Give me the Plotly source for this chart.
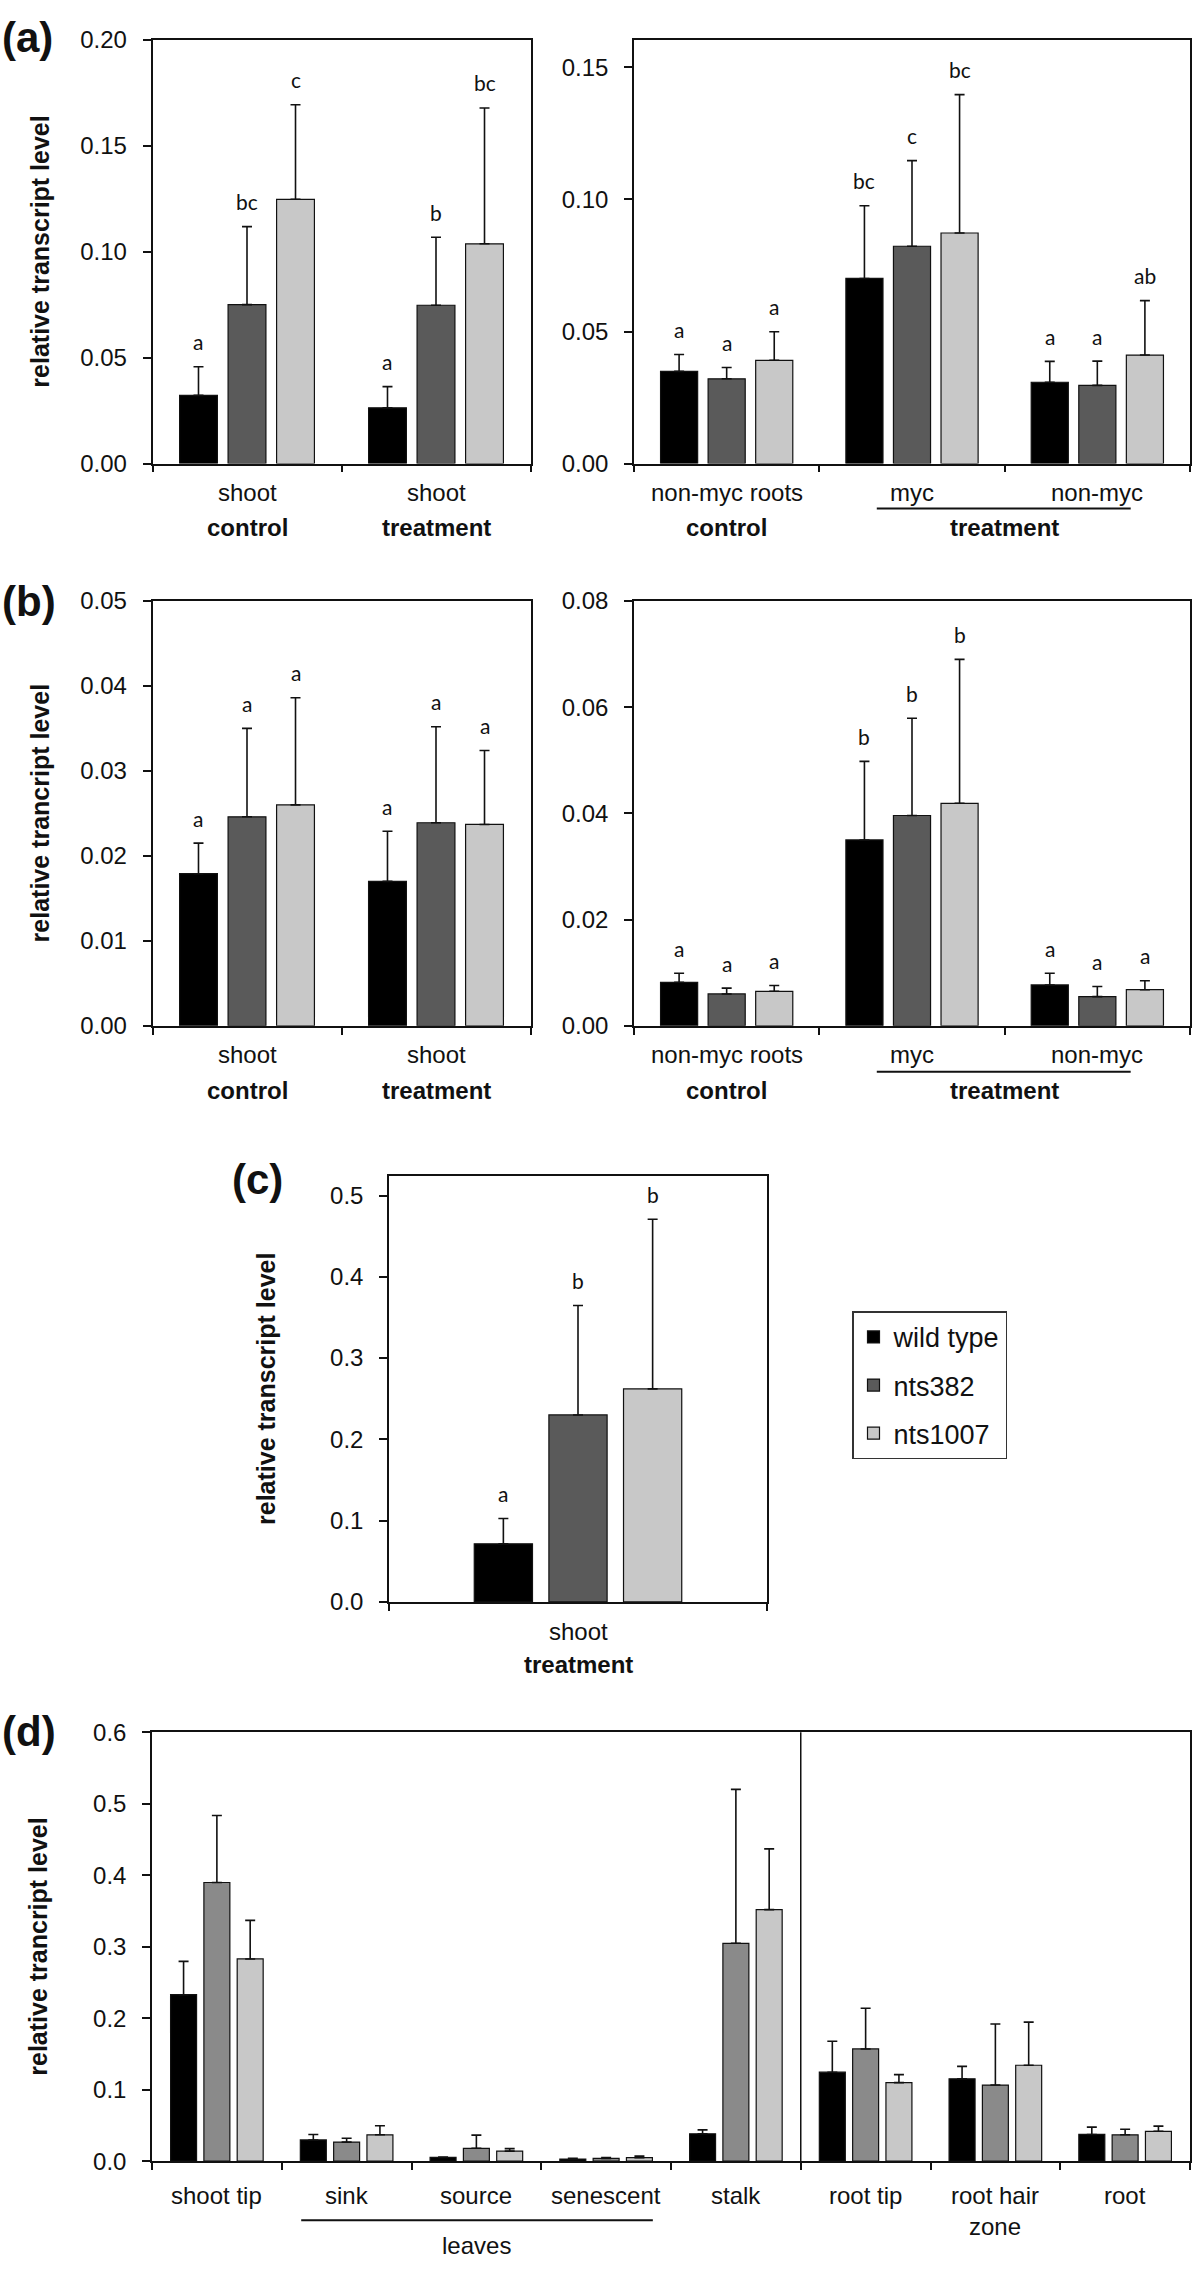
import plotly.graph_objects as go

W, H = 1200, 2272

# ---------------- data ----------------
series = ["wild type", "nts382", "nts1007"]
colors_abc = ["#000000", "#5a5a5a", "#c8c8c8"]
colors_d = ["#000000", "#8a8a8a", "#c8c8c8"]

# (a) shoot
a1_cats = ["shoot", "shoot"]
a1_groups = ["control", "treatment"]
a1_wt = [0.0322, 0.0263]
a1_wt_err = [0.0135, 0.0100]
a1_382 = [0.0750, 0.0747]
a1_382_err = [0.0368, 0.0321]
a1_1007 = [0.1247, 0.1037]
a1_1007_err = [0.0446, 0.0641]
a1_letters_wt = ["a", "a"]
a1_letters_382 = ["bc", "b"]
a1_letters_1007 = ["c", "bc"]

# (a) roots
a2_cats = ["non-myc roots", "myc", "non-myc"]
a2_wt = [0.0349, 0.0701, 0.0308]
a2_wt_err = [0.0064, 0.0275, 0.0079]
a2_382 = [0.0321, 0.0823, 0.0296]
a2_382_err = [0.0043, 0.0324, 0.0092]
a2_1007 = [0.0391, 0.0873, 0.0411]
a2_1007_err = [0.0108, 0.0524, 0.0206]
a2_letters_wt = ["a", "bc", "a"]
a2_letters_382 = ["a", "c", "a"]
a2_letters_1007 = ["a", "bc", "ab"]

# (b) shoot
b1_cats = ["shoot", "shoot"]
b1_wt = [0.0179, 0.0170]
b1_wt_err = [0.0036, 0.0059]
b1_382 = [0.0246, 0.0239]
b1_382_err = [0.0104, 0.0113]
b1_1007 = [0.0260, 0.0237]
b1_1007_err = [0.0126, 0.0087]
b1_letters_wt = ["a", "a"]
b1_letters_382 = ["a", "a"]
b1_letters_1007 = ["a", "a"]

# (b) roots
b2_cats = ["non-myc roots", "myc", "non-myc"]
b2_wt = [0.0082, 0.0350, 0.0077]
b2_wt_err = [0.0017, 0.0148, 0.0022]
b2_382 = [0.0060, 0.0396, 0.0055]
b2_382_err = [0.0011, 0.0183, 0.0019]
b2_1007 = [0.0065, 0.0419, 0.0068]
b2_1007_err = [0.0011, 0.0271, 0.0017]
b2_letters_wt = ["a", "b", "a"]
b2_letters_382 = ["a", "b", "a"]
b2_letters_1007 = ["a", "b", "a"]

# (c)
c_cats = ["shoot"]
c_wt = [0.0714]
c_wt_err = [0.0312]
c_382 = [0.2300]
c_382_err = [0.1347]
c_1007 = [0.2621]
c_1007_err = [0.2087]
c_letters_wt = ["a"]
c_letters_382 = ["b"]
c_letters_1007 = ["b"]

# (d)
d_cats = ["shoot tip", "sink", "source", "senescent", "stalk",
          "root tip", "root hair<br>zone", "root"]
d_wt = [0.2329, 0.0297, 0.0053, 0.0029, 0.0384, 0.1245, 0.1152, 0.0374]
d_wt_err = [0.0466, 0.0077, 0.0005, 0.0010, 0.0054, 0.0432, 0.0175, 0.0102]
d_382 = [0.3899, 0.0267, 0.0180, 0.0039, 0.3048, 0.1570, 0.1065, 0.0369]
d_382_err = [0.0938, 0.0054, 0.0185, 0.0010, 0.2154, 0.0569, 0.0855, 0.0078]
d_1007 = [0.2829, 0.0369, 0.0141, 0.0049, 0.3520, 0.1099, 0.1342, 0.0418]
d_1007_err = [0.0540, 0.0127, 0.0034, 0.0024, 0.0850, 0.0112, 0.0603, 0.0073]

# ---------------- layout helpers ----------------
FONT = "Liberation Sans, Arial, sans-serif"
LETTER_FONT = "Lato, Open Sans, sans-serif"
BARGAP = 0.23
SLOT = (1 - BARGAP) / 3

# panel boxes in pixels: left, right, top, bottom
boxes = {
    1: (152.5, 530.5, 26, 455),
    2: (634, 1190, 26, 455),
    3: (152.5, 530.5, 594, 1024),
    4: (634, 1190, 594, 1024),
    5: (389, 767, 1176, 1607),
    6: (152, 1190, 1739, 2173),
}


def px(x):
    return x / W


def py(y):
    return 1 - y / H


fig = go.Figure()
annotations = []
shapes = []


def xn(i):
    return "x" if i == 1 else f"x{i}"


def yn(i):
    return "y" if i == 1 else f"y{i}"


def add_panel(i, cats, vals, errs, letters, colors, yrange, dtick, fmt,
              xrange=None, showlegend=False):
    n = len(cats)
    xs = list(range(n))
    for s in range(3):
        fig.add_trace(go.Bar(
            x=xs, y=vals[s], name=series[s], legendgroup=series[s],
            showlegend=showlegend,
            marker=dict(color=colors[s], line=dict(color="#111", width=1.2)),
            error_y=dict(type="data", symmetric=False, array=errs[s],
                         arrayminus=[0] * n, color="#111", thickness=1.6,
                         width=5),
            xaxis=xn(i), yaxis=yn(i),
        ))
        if letters is not None:
            for k in range(n):
                annotations.append(dict(
                    xref=xn(i), yref=yn(i),
                    x=xs[k] + (s - 1) * SLOT, y=vals[s][k] + errs[s][k],
                    text=letters[s][k], showarrow=False, yanchor="middle",
                    yshift=25, font=dict(family=LETTER_FONT, size=21,
                                         color="#111")))
    l, r, t, b = boxes[i]
    if xrange is None:
        xrange = [-0.5, n - 0.5]
    bounds = [xrange[0] + k for k in range(n + 1)] if n > 1 else xrange
    sfx = "" if i == 1 else str(i)
    fig.layout[f"xaxis{sfx}"] = dict(
        domain=[px(l), px(r)], anchor=yn(i), range=xrange,
        showline=True, linecolor="#111", linewidth=1.5, mirror=True,
        ticks="outside", ticklen=7, tickwidth=1.5, tickcolor="#111",
        tickvals=bounds, showticklabels=False, showgrid=False,
        zeroline=False, fixedrange=True)
    fig.layout[f"yaxis{sfx}"] = dict(
        domain=[py(b), py(t)], anchor=xn(i), range=yrange,
        showline=True, linecolor="#111", linewidth=1.5, mirror=True,
        ticks="outside", ticklen=8, tickwidth=1.5, tickcolor="#111",
        dtick=dtick, tick0=0, tickformat=fmt, showgrid=False,
        zeroline=False, ticklabelstandoff=11,
        tickfont=dict(family=FONT, size=24, color="#111"), fixedrange=True)
    return xs


def cat_labels(i, cats, offset, anchor="middle"):
    for k, c in enumerate(cats):
        annotations.append(dict(
            xref=xn(i), yref=f"{yn(i)} domain", x=k,
            y=0, yshift=-offset, yanchor=anchor, text=c, showarrow=False,
            font=dict(family=FONT, size=24, color="#111")))


def group_label(i, x, text, offset):
    annotations.append(dict(
        xref=xn(i), yref=f"{yn(i)} domain", x=x, y=0, yshift=-offset,
        yanchor="middle", text=f"<b>{text}</b>", showarrow=False,
        font=dict(family=FONT, size=24, color="#111")))


def underline(i, x0, x1, offset):
    shapes.append(dict(
        type="line", xref=xn(i), yref=f"{yn(i)} domain", x0=x0, x1=x1,
        ysizemode="pixel", yanchor=0, y0=-offset, y1=-offset,
        line=dict(color="#111", width=2)))


def ytitle(i, text, xpx):
    annotations.append(dict(
        xref="paper", yref=f"{yn(i)} domain", x=px(xpx), y=0.5,
        xanchor="center", yanchor="middle", textangle=-90,
        text=f"<b>{text}</b>", showarrow=False,
        font=dict(family=FONT, size=25, color="#111")))


def panel_label(text, xpx, ypx):
    annotations.append(dict(
        xref="paper", yref="paper", x=max(0, px(xpx)), y=py(ypx),
        xanchor="left", yanchor="middle", text=f"<b>{text}</b>",
        showarrow=False, font=dict(family=FONT, size=42, color="#111")))


# (a)
add_panel(1, a1_cats, [a1_wt, a1_382, a1_1007],
          [a1_wt_err, a1_382_err, a1_1007_err],
          [a1_letters_wt, a1_letters_382, a1_letters_1007],
          colors_abc, [0, 0.2], 0.05, ".2f")
cat_labels(1, a1_cats, 29)
for k, g in enumerate(a1_groups):
    group_label(1, k, g, 64)
ytitle(1, "relative transcript level", 40)
panel_label("(a)", 0, 24)

add_panel(2, a2_cats, [a2_wt, a2_382, a2_1007],
          [a2_wt_err, a2_382_err, a2_1007_err],
          [a2_letters_wt, a2_letters_382, a2_letters_1007],
          colors_abc, [0, 0.1605], 0.05, ".2f")
cat_labels(2, a2_cats, 29)
group_label(2, 0, "control", 64)
group_label(2, 1.5, "treatment", 64)
underline(2, 0.81, 2.18, 45)

# (b)
add_panel(3, b1_cats, [b1_wt, b1_382, b1_1007],
          [b1_wt_err, b1_382_err, b1_1007_err],
          [b1_letters_wt, b1_letters_382, b1_letters_1007],
          colors_abc, [0, 0.05], 0.01, ".2f")
cat_labels(3, b1_cats, 29)
for k, g in enumerate(a1_groups):
    group_label(3, k, g, 65)
ytitle(3, "relative trancript level", 40)
panel_label("(b)", 0, 595)

add_panel(4, b2_cats, [b2_wt, b2_382, b2_1007],
          [b2_wt_err, b2_382_err, b2_1007_err],
          [b2_letters_wt, b2_letters_382, b2_letters_1007],
          colors_abc, [0, 0.08], 0.02, ".2f")
cat_labels(4, b2_cats, 29)
group_label(4, 0, "control", 65)
group_label(4, 1.5, "treatment", 65)
underline(4, 0.81, 2.18, 46)

# (c)
add_panel(5, c_cats, [c_wt, c_382, c_1007],
          [c_wt_err, c_382_err, c_1007_err],
          [c_letters_wt, c_letters_382, c_letters_1007],
          colors_abc, [0, 0.524], 0.1, ".1f", xrange=[-0.65, 0.65],
          showlegend=True)
cat_labels(5, c_cats, 30)
group_label(5, 0, "treatment", 63)
ytitle(5, "relative transcript level", 266)
panel_label("(c)", 230, 1180)

# (d)
add_panel(6, d_cats, [d_wt, d_382, d_1007],
          [d_wt_err, d_382_err, d_1007_err], None,
          colors_d, [0, 0.6], 0.1, ".1f")
cat_labels(6, d_cats, 19, anchor="top")
underline(6, 0.65, 3.36, 59)
annotations.append(dict(
    xref="x6", yref="y6 domain", x=2, y=0, yshift=-84, yanchor="middle",
    text="leaves", showarrow=False,
    font=dict(family=FONT, size=24, color="#111")))
shapes.append(dict(type="line", xref="x6", yref="y6 domain", x0=4.5, x1=4.5,
                   y0=0, y1=1, line=dict(color="#111", width=1.5)))
ytitle(6, "relative trancript level", 38)
panel_label("(d)", 0, 1738)

fig.update_layout(
    width=W, height=H, margin=dict(l=0, r=0, t=0, b=0),
    paper_bgcolor="white", plot_bgcolor="white",
    barmode="group", bargap=BARGAP, bargroupgap=0.22,
    annotations=annotations, shapes=shapes,
    font=dict(family=FONT, color="#111"),
    legend=dict(x=px(852), y=py(1313), xanchor="left", yanchor="top",
                bordercolor="#333", borderwidth=1.5, bgcolor="white",
                font=dict(family=FONT, size=27, color="#111"),
                tracegroupgap=10, itemwidth=30),
)

fig.write_html("out.html", config={"displayModeBar": False},
               post_script="document.body.style.margin='0px';")
